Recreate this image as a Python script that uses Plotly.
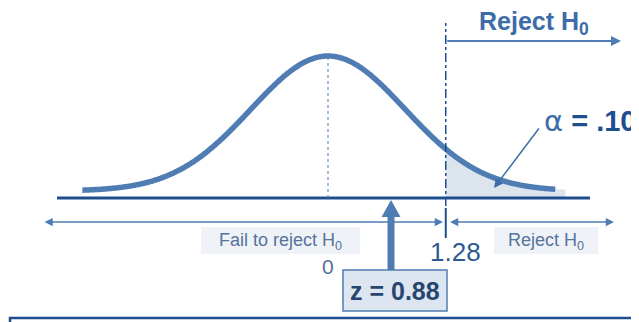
import numpy as np
import plotly.graph_objects as go

# schematic values (z units on the x axis)
crit_value = 1.28
crit_label = "1.28"
z_stat_label = "z = 0.88"
stat_marker_at = 0.685      # where the schematic draws the test statistic
alpha_label = "= .10"

# normal curve used for the sketch
curve_from = -2.67
curve_to = 2.47
curve_sd = 0.837
curve_peak = 135
curve_lift = 7
tail_to = 2.58

# colours
NAVY = "#1f4e8f"
STEEL = "#4f7db3"
TEXT_BLUE = "#3d6ca8"
GREY_BLUE = "#56739c"
SHADE = "#dce4ee"

PX = 92.0  # pixels per z unit
X0 = 328   # pixel of z = 0
PAGE_PAD = 8  # default body margin of the html page


def px(x):
    return (x - X0) / PX


def py(y):
    return 198 - y


def density(z):
    return curve_lift + curve_peak * np.exp(-0.5 * (z / curve_sd) ** 2)


fig = go.Figure()

# shaded rejection tail
zt = np.linspace(crit_value, tail_to, 80)
fig.add_trace(go.Scatter(
    x=np.concatenate([zt, [tail_to, crit_value]]),
    y=np.concatenate([density(zt), [0, 0]]),
    fill="toself", fillcolor=SHADE, line=dict(width=0),
    mode="lines", hoverinfo="skip",
))

# the curve
zc = np.linspace(curve_from, curve_to, 400)
fig.add_trace(go.Scatter(
    x=zc, y=density(zc), mode="lines",
    line=dict(color=STEEL, width=5.5, shape="spline"), hoverinfo="skip",
))

# thick arrow for the test statistic
sw = 3.5 / PX
hw = 9.5 / PX
s = stat_marker_at
fig.add_trace(go.Scatter(
    x=[s - sw, s - sw, s - hw, s, s + hw, s + sw, s + sw, s - sw],
    y=[py(270), py(217), py(217), py(200), py(217), py(217), py(270), py(270)],
    fill="toself", fillcolor=STEEL, line=dict(width=0, color=STEEL),
    mode="lines", hoverinfo="skip",
))

shapes = [
    # baseline
    dict(type="line", x0=px(57), x1=px(590), y0=0, y1=0,
         line=dict(color=NAVY, width=3)),
    # mean line
    dict(type="line", x0=0, x1=0, y0=0, y1=density(0),
         line=dict(color=STEEL, width=1, dash="dot")),
    # critical value line
    dict(type="line", x0=crit_value, x1=crit_value, y0=py(206), y1=py(23),
         line=dict(color=NAVY, width=1.5, dash="dashdot")),
    # tick under critical value
    dict(type="line", x0=crit_value, x1=crit_value, y0=py(208), y1=py(238),
         line=dict(color=NAVY, width=2)),
    # label boxes
    dict(type="rect", x0=px(201), x1=px(360), y0=py(227), y1=py(254),
         fillcolor="#eff2f7", line=dict(width=0), layer="below"),
    dict(type="rect", x0=px(494), x1=px(598), y0=py(227), y1=py(254),
         fillcolor="#eff2f7", line=dict(width=0), layer="below"),
    # statistic box
    dict(type="rect", x0=px(343), x1=px(447), y0=py(270), y1=py(311),
         fillcolor="#dde6f0", line=dict(color=STEEL, width=1.5)),
    # frame at the bottom
    dict(type="rect", x0=px(10), x1=px(720), y0=py(318), y1=py(360),
         line=dict(color=NAVY, width=2.5)),
]

annotations = [
    # top "Reject" arrow
    dict(x=px(621), y=py(41), ax=crit_value, ay=py(41), xref="x", yref="y",
         axref="x", ayref="y", text="", showarrow=True, arrowhead=2,
         arrowsize=1, arrowwidth=2, arrowcolor=STEEL),
    dict(x=px(534), y=py(23), text="<b>Reject H<sub>0</sub></b>", showarrow=False,
         font=dict(size=25, color=TEXT_BLUE)),
    # alpha label and pointer
    dict(x=px(542), y=py(121), xanchor="left",
         text="<span style='font-family:DejaVu Sans;font-size:29px'>α</span> "
              "<b><span style='color:%s'>%s</span></b>" % (NAVY, alpha_label),
         showarrow=False, font=dict(size=29, color=TEXT_BLUE)),
    dict(x=px(494), y=py(188), ax=px(540), ay=py(127), xref="x", yref="y",
         axref="x", ayref="y", text="", showarrow=True, arrowhead=2,
         arrowsize=1.2, arrowwidth=1.5, arrowcolor=TEXT_BLUE),
    # lower double arrows
    dict(x=crit_value - 0.03, y=py(222), ax=px(43), ay=py(222), xref="x", yref="y",
         axref="x", ayref="y", text="", showarrow=True, arrowhead=2,
         startarrowhead=2, arrowside="end+start", arrowsize=1.1,
         arrowwidth=1.5, arrowcolor=STEEL),
    dict(x=px(614), y=py(222), ax=crit_value + 0.03, ay=py(222), xref="x", yref="y",
         axref="x", ayref="y", text="", showarrow=True, arrowhead=2,
         startarrowhead=2, arrowside="end+start", arrowsize=1.1,
         arrowwidth=1.5, arrowcolor=STEEL),
    dict(x=px(280), y=py(241), text="Fail to reject H<sub>0</sub>", showarrow=False,
         font=dict(size=18, color=GREY_BLUE)),
    dict(x=px(546), y=py(241), text="Reject H<sub>0</sub>", showarrow=False,
         font=dict(size=18, color=GREY_BLUE)),
    dict(x=0, y=py(266), text="0", showarrow=False,
         font=dict(size=21, color=GREY_BLUE)),
    dict(x=px(455), y=py(252), text=crit_label, showarrow=False,
         font=dict(size=26, color="#2e5b8f")),
    dict(x=px(395), y=py(291), text="<b>%s</b>" % z_stat_label, showarrow=False,
         font=dict(size=25, color="#27466f")),
]

fig.update_layout(
    width=639 - PAGE_PAD, height=322 - PAGE_PAD,
    margin=dict(l=0, r=0, t=0, b=0),
    paper_bgcolor="white", plot_bgcolor="white",
    showlegend=False,
    font=dict(family="Liberation Sans, Arial, sans-serif"),
    xaxis=dict(range=[px(PAGE_PAD), px(639)], visible=False, fixedrange=True),
    yaxis=dict(range=[py(322), py(PAGE_PAD)], visible=False, fixedrange=True),
    shapes=shapes,
    annotations=annotations,
)

fig.write_html("out.html")
